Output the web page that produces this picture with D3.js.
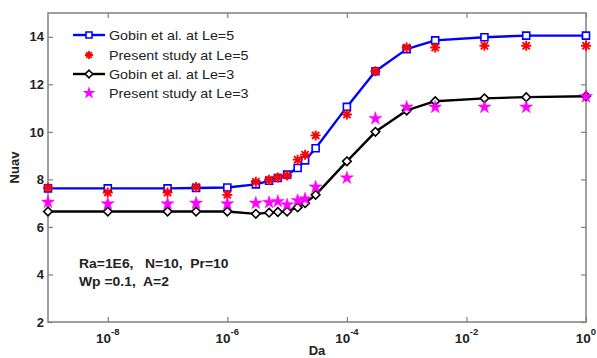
<!DOCTYPE html>
<html>
<head>
<meta charset="utf-8">
<script src="https://cdn.jsdelivr.net/npm/d3@7"></script>
<style>
  body { margin: 0; background: #fff; }
  svg text { font-family: "Liberation Sans", Arial, sans-serif; }
</style>
</head>
<body>
<div id="chart"></div>
<script>
//Datos
const daValues = [1e-9, 1e-8, 1e-7, 3e-7, 1e-6, 3e-6, 5e-6, 7e-6, 1e-5, 1.5e-5, 2e-5, 3e-5, 1e-4, 3e-4, 1e-3, 3e-3, 2e-2, 1e-1, 1];
const nuGobinLe5 = [7.62, 7.62, 7.62, 7.64, 7.66, 7.79, 7.94, 8.06, 8.2, 8.48, 8.8, 9.31, 11.05, 12.55, 13.48, 13.85, 13.98, 14.05, 14.05];
const nuPresentLe5 = [7.65, 7.45, 7.45, 7.68, 7.35, 7.9, 7.98, 8.08, 8.16, 8.83, 9.04, 9.85, 10.73, 12.55, 13.55, 13.55, 13.62, 13.62, 13.62];
const nuGobinLe3 = [6.65, 6.65, 6.65, 6.65, 6.65, 6.55, 6.6, 6.63, 6.65, 6.82, 7.0, 7.35, 8.76, 10.0, 10.9, 11.29, 11.41, 11.46, 11.5];
const nuPresentLe3 = [7.04, 6.97, 6.97, 7.0, 6.97, 7.0, 7.03, 7.07, 6.93, 7.11, 7.18, 7.68, 8.06, 10.56, 11.04, 11.04, 11.04, 11.04, 11.48];

const xTicks = [1e-8, 1e-6, 1e-4, 1e-2, 1];
const xTickExp = ['-8', '-6', '-4', '-2', '0'];
const yTicks = [2, 4, 6, 8, 10, 12, 14];
const legendLabels = ['Gobin et al. at Le=5', 'Present study at Le=5', 'Gobin et al. at Le=3', 'Present study at Le=3'];
const noteLines = ['Ra=1E6,\u00a0\u00a0 N=10,\u00a0 Pr=10', 'Wp =0.1,\u00a0 A=2'];

//Colores fijos
const COLOR_BLUE = '#0000ff', COLOR_RED = '#ff0000', COLOR_BLACK = '#000000', COLOR_MAGENTA = '#ff00ff', COLOR_AXIS = '#808080';

let margin = {top: 13, right: 11, bottom: 36, left: 48},
    width = 597 - margin.left - margin.right,
    height = 358 - margin.top - margin.bottom;

let svg = d3.select('#chart')
    .append('svg')
        .attr('width', 597)
        .attr('height', 358)
    .append('g')
        .attr('transform', 'translate(' + margin.left + ',' + margin.top + ')');

let x = d3.scaleLog().domain([1e-9, 1]).range([0, width]);
let y = d3.scaleLinear().domain([2, 15]).range([height, 0]);

//Ejes con ticks hacia dentro
function styleAxis(g) {
    g.selectAll('.domain').remove();
    g.selectAll('.tick line').attr('stroke', COLOR_AXIS).attr('stroke-width', 1.2);
}

svg.append('g').attr('transform', 'translate(0,' + height + ')')
    .call(d3.axisBottom(x).tickValues(xTicks).tickSize(-5).tickFormat(''))
    .call(styleAxis);
svg.append('g')
    .call(d3.axisTop(x).tickValues(xTicks).tickSize(-5).tickFormat(''))
    .call(styleAxis);
svg.append('g')
    .call(d3.axisLeft(y).tickValues(yTicks).tickSize(-5).tickPadding(4))
    .call(styleAxis)
    .call(function(g) {
        g.selectAll('text')
            .attr('fill', '#222')
            .style('font-size', '13px')
            .style('font-weight', '700');
    });
svg.append('g').attr('transform', 'translate(' + width + ',0)')
    .call(d3.axisRight(y).tickValues(yTicks).tickSize(-5).tickFormat(''))
    .call(styleAxis);

svg.append('rect')
    .attr('width', width)
    .attr('height', height)
    .attr('fill', 'none')
    .attr('stroke', COLOR_AXIS)
    .attr('stroke-width', 1.5);

//Etiquetas eje X con exponente
let xLabels = svg.append('g').selectAll('text')
    .data(xTicks)
    .enter()
    .append('text')
    .attr('x', function(d) { return x(d); })
    .attr('y', height + 21)
    .attr('text-anchor', 'middle')
    .attr('fill', '#222')
    .style('font-size', '13.5px')
    .style('font-weight', '700');
xLabels.append('tspan').text('10');
xLabels.append('tspan')
    .attr('dy', -8)
    .style('font-size', '9.5px')
    .text(function(d, i) { return xTickExp[i]; });

svg.append('text')
    .attr('x', width / 2)
    .attr('y', height + 33)
    .attr('text-anchor', 'middle')
    .style('font-size', '13px')
    .style('font-weight', '700')
    .attr('fill', '#222')
    .text('Da');

svg.append('text')
    .attr('transform', 'translate(' + (-29) + ',' + (height / 2) + ') rotate(-90)')
    .attr('text-anchor', 'middle')
    .style('font-size', '13px')
    .style('font-weight', '700')
    .attr('fill', '#222')
    .text('Nuav');

//Marcadores
function squarePath(s) { return 'M' + (-s) + ',' + (-s) + 'H' + s + 'V' + s + 'H' + (-s) + 'Z'; }
function diamondPath(s) { return 'M0,' + (-s) + 'L' + s + ',0L0,' + s + 'L' + (-s) + ',0Z'; }
function asteriskPath(s) {
    let d = s * 0.72;
    return 'M' + (-s) + ',0H' + s + 'M0,' + (-s) + 'V' + s +
        'M' + (-d) + ',' + (-d) + 'L' + d + ',' + d + 'M' + (-d) + ',' + d + 'L' + d + ',' + (-d);
}
let starPath = d3.symbol().type(d3.symbolStar).size(52)();

function pts(values) {
    return daValues.map(function(d, i) { return {da: d, nu: values[i]}; });
}

let line = d3.line()
    .x(function(d) { return x(d.da); })
    .y(function(d) { return y(d.nu); });

function drawLineSeries(values, color, shape) {
    svg.append('path')
        .datum(pts(values))
        .attr('fill', 'none')
        .attr('stroke', color)
        .attr('stroke-width', 2.4)
        .attr('stroke-linejoin', 'round')
        .attr('d', line);
    svg.append('g').selectAll('path')
        .data(pts(values))
        .enter()
        .append('path')
        .attr('transform', function(d) { return 'translate(' + x(d.da) + ',' + y(d.nu) + ')'; })
        .attr('d', shape)
        .attr('fill', '#fff')
        .attr('stroke', color)
        .attr('stroke-width', 1.6);
}

function drawAsterisks(values) {
    svg.append('g').selectAll('path')
        .data(pts(values))
        .enter()
        .append('path')
        .attr('transform', function(d) { return 'translate(' + x(d.da) + ',' + y(d.nu) + ')'; })
        .attr('d', asteriskPath(5))
        .attr('fill', 'none')
        .attr('stroke', COLOR_RED)
        .attr('stroke-width', 1.9);
}

function drawStars(values) {
    svg.append('g').selectAll('path')
        .data(pts(values))
        .enter()
        .append('path')
        .attr('transform', function(d) { return 'translate(' + x(d.da) + ',' + y(d.nu) + ')'; })
        .attr('d', starPath)
        .attr('fill', COLOR_MAGENTA)
        .attr('stroke', COLOR_MAGENTA)
        .attr('stroke-width', 0.5);
}

drawLineSeries(nuGobinLe5, COLOR_BLUE, squarePath(3.5));
drawAsterisks(nuPresentLe5);
drawLineSeries(nuGobinLe3, COLOR_BLACK, diamondPath(4.3));
drawStars(nuPresentLe3);

//Leyenda
let legendY = [22, 42, 61, 80];
let legend = svg.append('g').attr('transform', 'translate(25,0)');
legendLabels.forEach(function(label, i) {
    let row = legend.append('g').attr('transform', 'translate(0,' + legendY[i] + ')');
    if (i == 0 || i == 2) {
        let color = i == 0 ? COLOR_BLUE : COLOR_BLACK;
        row.append('line')
            .attr('x1', 0).attr('x2', 32)
            .attr('stroke', color)
            .attr('stroke-width', 2.4);
        row.append('path')
            .attr('transform', 'translate(16,0)')
            .attr('d', i == 0 ? squarePath(3) : diamondPath(3.8))
            .attr('fill', '#fff')
            .attr('stroke', color)
            .attr('stroke-width', 1.6);
    } else if (i == 1) {
        row.append('path')
            .attr('transform', 'translate(16,0)')
            .attr('d', asteriskPath(4))
            .attr('fill', 'none')
            .attr('stroke', COLOR_RED)
            .attr('stroke-width', 1.8);
    } else {
        row.append('path')
            .attr('transform', 'translate(16,0)')
            .attr('d', starPath)
            .attr('fill', COLOR_MAGENTA);
    }
    row.append('text')
        .attr('transform', 'translate(36,5) scale(1.1,1)')
        .style('font-size', '13px')
        .attr('fill', '#222')
        .text(label);
});

//Nota de parámetros
noteLines.forEach(function(t, i) {
    svg.append('text')
        .attr('transform', 'translate(31,' + (255 + i * 18) + ') scale(1.07,1)')
        .style('font-size', '13px')
        .style('font-weight', '700')
        .attr('fill', '#222')
        .text(t);
});
</script>
</body>
</html>
